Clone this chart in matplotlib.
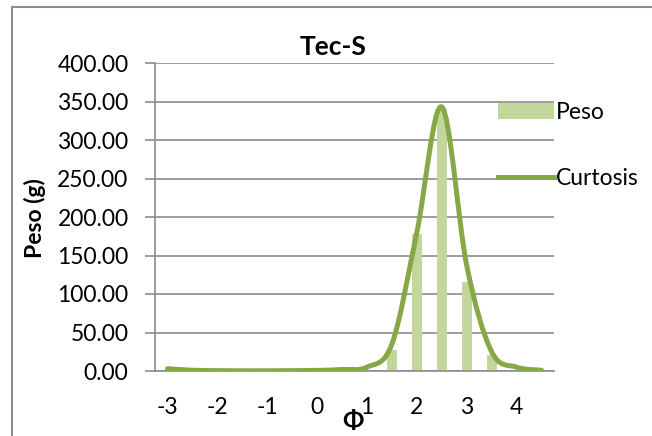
import numpy as np
import matplotlib
matplotlib.use("Agg")
import matplotlib.pyplot as plt
from matplotlib.path import Path
from matplotlib.patches import PathPatch, Patch
from matplotlib.lines import Line2D

plt.rcParams['font.family'] = ['Lato', 'DejaVu Sans']

# ---- data ----
phi = [-3, -2.5, -2, -1.5, -1, -0.5, 0, 0.5, 1, 1.5, 2, 2.5, 3, 3.5, 4, 4.5]
peso = [0, 0, 0, 0, 0, 0, 0, 0, 0, 27, 178, 340, 116, 21, 0, 0]
curtosis = [3, 1, 0.5, 0.3, 0.3, 0.5, 0.8, 2, 5, 35, 180, 343, 137, 25, 5, 1]
xticks = [-3, -2, -1, 0, 1, 2, 3, 4]
yticks = [0, 50, 100, 150, 200, 250, 300, 350, 400]

line_color = '#86A846'
bar_color = '#C3D69B'
grid_color = '#8C8C8C'
FS = 16.5

W, H = 652, 436
fig = plt.figure(figsize=(W / 100, H / 100), dpi=100)
ax = fig.add_axes([155 / W, 1 - 371 / H, (554 - 155) / W, (371 - 63) / H])

ax.bar(phi, peso, width=0.2, color=bar_color, zorder=2)

# Smooth line (Excel-like Catmull-Rom Bezier)
pts = np.column_stack([phi, curtosis]).astype(float)
n = len(pts)
verts = [tuple(pts[0])]
codes = [Path.MOVETO]
for i in range(n - 1):
    p0 = pts[max(i - 1, 0)]
    p1 = pts[i]
    p2 = pts[i + 1]
    p3 = pts[min(i + 2, n - 1)]
    c1 = p1 + (p2 - p0) / 6.0
    c2 = p2 - (p3 - p1) / 6.0
    verts += [tuple(c1), tuple(c2), tuple(p2)]
    codes += [Path.CURVE4] * 3
path = Path(verts, codes)
ax.add_patch(PathPatch(path, facecolor='none', edgecolor=line_color, lw=3.6,
                       capstyle='round', joinstyle='round', zorder=3))

ax.set_xlim(-3.25, 4.75)
ax.set_ylim(0, 400)
ax.set_xticks(xticks)
ax.set_xticklabels([str(v) for v in xticks])
ax.set_yticks(yticks)
ax.set_yticklabels([f"{v:.2f}" for v in yticks])
ax.tick_params(axis='x', length=0, pad=19, labelsize=FS)
ax.tick_params(axis='y', length=7, width=1.2, color=grid_color, pad=12, labelsize=FS)
ax.grid(axis='y', color=grid_color, lw=1.2, zorder=0)
ax.set_axisbelow(True)
for s in ['top', 'right']:
    ax.spines[s].set_visible(False)
for s in ['left', 'bottom']:
    ax.spines[s].set_color(grid_color)
    ax.spines[s].set_linewidth(1.2)

fig.text(35 / W, 1 - 218 / H, 'Peso (g)', rotation=90, fontsize=FS,
         fontweight='bold', ha='center', va='center')
fig.text(353 / W, 1 - 421 / H, 'Φ', fontsize=18, fontweight='bold',
         ha='center', va='center')
fig.text(333 / W, 1 - 47 / H, 'Tec-S', fontsize=19, fontweight='bold',
         ha='center', va='center')

handles = [Patch(facecolor=bar_color, edgecolor='none'),
           Line2D([], [], color=line_color, lw=3.6)]
fig.legend(handles, ['Peso', 'Curtosis'], loc='upper left',
           bbox_to_anchor=(489 / W, 1 - 93 / H), frameon=False,
           fontsize=FS, handlelength=2.45, handleheight=0.7,
           handletextpad=0.05, labelspacing=1.95, borderaxespad=0)

# chart area border
fig.add_artist(Line2D([12 / W, 1], [1 - 7 / H, 1 - 7 / H], color=grid_color, lw=1.5,
                      transform=fig.transFigure))
fig.add_artist(Line2D([12 / W, 12 / W], [0, 1 - 7 / H], color=grid_color, lw=1.5,
                      transform=fig.transFigure))

fig.savefig('out.png', dpi=100)
